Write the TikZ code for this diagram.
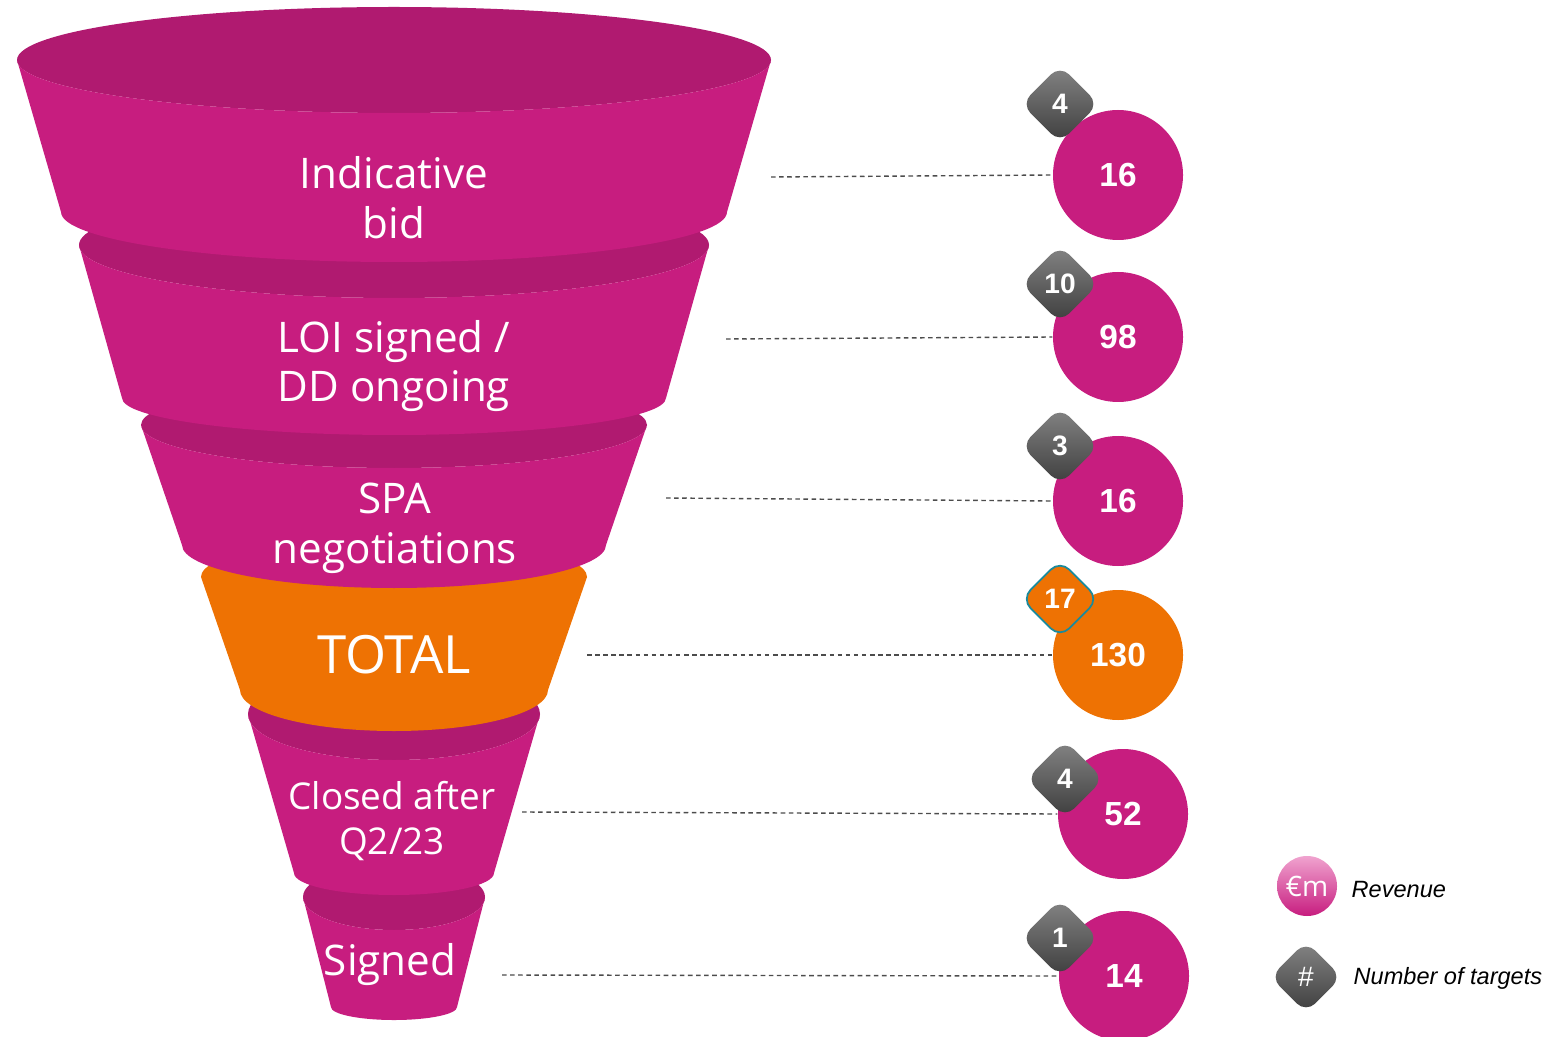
\documentclass[tikz,border=0pt]{standalone}
\usepackage{fontspec}
\setmainfont{Open Sans}
\newfontfamily\arialfont{Liberation Sans}
\usepackage{xcolor}
\usetikzlibrary{shapes.geometric,positioning}

\definecolor{pinkbody}{HTML}{C71D7F}
\definecolor{pinkdark}{HTML}{B01A70}
\definecolor{pinklight}{HTML}{F0A3CF}
\definecolor{totalorange}{HTML}{EE7203}
\definecolor{tealedge}{HTML}{1A8A9C}

% one funnel ring: top y, top rx, top ry, bottom y, bottom rx, bottom ry
\newcommand{\funnelpart}[6]{%
  \fill[pinkdark] (3.94,#1) ellipse [x radius=#2, y radius=#3];
  \fill[pinkbody] (3.94-#2,#1) -- (3.94-#5,#4)
    arc [start angle=180, end angle=360, x radius=#5, y radius=#6]
    -- (3.94+#2,#1)
    arc [start angle=0, end angle=-180, x radius=#2, y radius=#3] -- cycle;
}

\begin{document}
\begin{tikzpicture}[
    stage/.style={text=white, align=center, font=\fontsize{12pt}{14.2pt}\selectfont},
    revenue/.style={circle, fill=pinkbody, minimum size=1.30cm, inner sep=0pt, text=white,
      font=\arialfont\bfseries\fontsize{9.5pt}{11pt}\selectfont},
    count/.style={diamond, aspect=1, minimum size=0.78cm, inner sep=0pt, rounded corners=0.13cm,
      top color=black!48, bottom color=black!76, text=white,
      font=\arialfont\bfseries\fontsize{8pt}{9pt}\selectfont},
    link/.style={draw=black!70, line width=0.4pt, dash pattern=on 1.3pt off 1pt},
    legend/.style={anchor=west, inner sep=0pt, font=\arialfont\itshape\fontsize{6.7pt}{8pt}\selectfont}
  ]
  \useasboundingbox (0,0) rectangle (15.68,-10.37);
  \clip (0,0) rectangle (15.68,-10.37);

  % funnel, drawn from the bottom ring upwards
  \funnelpart{-8.97}{0.91}{0.33}{-10.07}{0.63}{0.13}
  \funnelpart{-7.14}{1.46}{0.46}{-8.73}{1.00}{0.22}
  \fill[totalorange] (3.94-1.93,-5.77) -- (3.94-1.54,-6.90)
    arc [start angle=180, end angle=360, x radius=1.54, y radius=0.41]
    -- (3.94+1.93,-5.77)
    arc [start angle=0, end angle=180, x radius=1.93, y radius=0.40] -- cycle;
  \funnelpart{-4.25}{2.53}{0.43}{-5.45}{2.12}{0.43}
  \funnelpart{-2.45}{3.15}{0.53}{-3.98}{2.72}{0.37}
  \funnelpart{-0.60}{3.77}{0.53}{-2.12}{3.33}{0.50}

  \node[stage] (s1) at (3.94,-1.98) {Indicative\\bid};
  \node[stage] (s2) at (3.94,-3.66) {LOI signed /\\DD ongoing};
  \node[stage] (s3) at (3.95,-5.28) {SPA\\negotiations};
  \node[stage, font=\fontsize{15pt}{18pt}\selectfont] (s4) at (3.94,-6.55) {TOTAL};
  \node[stage, font=\fontsize{10.5pt}{12.8pt}\selectfont] (s5) at (3.92,-8.21) {Closed after\\Q2/23};
  \node[stage] (s6) at (3.90,-9.65) {Signed};

  % revenue per stage
  \node[revenue] (r1) at (11.18,-1.75) {16};
  \node[revenue] (r2) at (11.18,-3.37) {98};
  \node[revenue] (r3) at (11.18,-5.01) {16};
  \node[revenue, fill=totalorange] (r4) at (11.18,-6.55) {130};
  \node[revenue] (r5) at (11.23,-8.14) {52};
  \node[revenue] (r6) at (11.24,-9.76) {14};

  % number of targets
  \node[count] (n1) at (10.60,-1.04) {4};
  \node[count] (n2) at (10.60,-2.84) {10};
  \node[count] (n3) at (10.60,-4.46) {3};
  \node[count, top color=totalorange, bottom color=totalorange, draw=tealedge, line width=0.5pt] (n4) at (10.60,-5.99) {17};
  \node[count] (n5) at (10.65,-7.79) {4};
  \node[count] (n6) at (10.60,-9.38) {1};

  % dashed leaders
  \coordinate (e1) at (7.71,-1.77);
  \coordinate (e2) at (7.26,-3.39);
  \coordinate (e3) at (6.66,-4.98);
  \coordinate (e4) at (5.87,-6.55);
  \coordinate (e5) at (5.22,-8.12);
  \coordinate (e6) at (5.02,-9.75);
  \foreach \i in {1,...,6} {
    \draw[link] (e\i) -- (r\i.west);
  }

  % legend
  \node[circle, minimum size=0.60cm, inner sep=0pt, top color=pinklight, bottom color=pinkbody,
    text=white, font=\fontsize{8pt}{9pt}\selectfont] (k1) at (13.07,-8.86) {€m};
  \node[count, minimum size=0.72cm, font=\arialfont\fontsize{8pt}{9pt}\selectfont] (k2) at (13.06,-9.77) {\#};
  \node[legend] (t1) at (13.51,-8.90) {Revenue};
  \node[legend] (t2) at (13.53,-9.78) {Number of targets};
\end{tikzpicture}
\end{document}
